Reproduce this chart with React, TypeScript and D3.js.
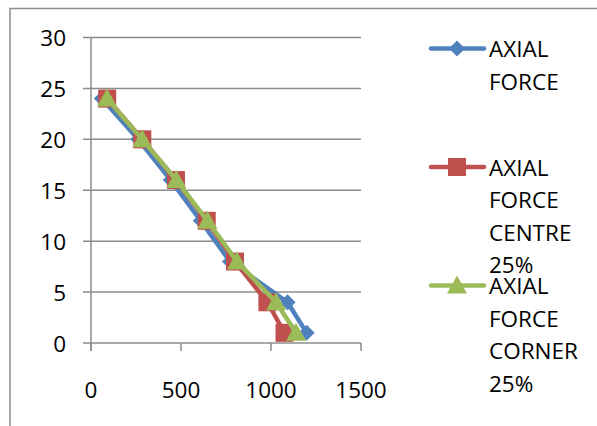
import React from "react";
import * as d3 from "d3";

const depths = [24, 20, 16, 12, 8, 4, 1];
const axialForce = [60, 262, 443, 610, 772, 1092, 1198];
const axialCentre = [90, 285, 472, 643, 800, 980, 1075];
const axialCorner = [89, 284, 474, 647, 811, 1028, 1139];
const yTicks = [0, 5, 10, 15, 20, 25, 30];
const xTicks = [0, 500, 1000, 1500];
const legendLabels = [
  ["AXIAL", "FORCE"],
  ["AXIAL", "FORCE", "CENTRE", "25%"],
  ["AXIAL", "FORCE", "CORNER", "25%"],
];

const colors = ["#4F81BD", "#C0504D", "#9BBB59"];
const shapes = ["diamond", "square", "triangle"];
const FONT = "'Open Sans', sans-serif";

function Marker({ shape, x, y, color }: { shape: string; x: number; y: number; color: string }) {
  if (shape === "diamond") {
    const r = 8;
    return <path d={`M${x},${y - r}L${x + r},${y}L${x},${y + r}L${x - r},${y}Z`} fill={color} />;
  }
  if (shape === "square") {
    return <rect x={x - 9} y={y - 9} width={18} height={18} fill={color} />;
  }
  return <path d={`M${x},${y - 10}L${x + 10},${y + 8}L${x - 10},${y + 8}Z`} fill={color} />;
}

export default function App() {
  const x = d3.scaleLinear().domain([0, 1500]).range([91, 361]);
  const y = d3.scaleLinear().domain([0, 30]).range([343, 37.5]);
  const series = [axialForce, axialCentre, axialCorner];
  const line = d3
    .line<[number, number]>()
    .x((d) => x(d[0]))
    .y((d) => y(d[1]));
  const grid = "#8c8c8c";

  return (
    <svg
      width={597}
      height={426}
      style={{ position: "absolute", left: 0, top: 0, background: "#fff" }}
      fontFamily={FONT}
    >
      <rect x={10} y={8.5} width={700} height={600} fill="#fff" stroke={grid} strokeWidth={1.5} />
      {yTicks.map((t) => (
        <g key={t}>
          <line x1={83} x2={361} y1={y(t)} y2={y(t)} stroke={grid} strokeWidth={1.5} />
          <text x={66} y={y(t)} textAnchor="end" dominantBaseline="central" fontSize={22.5} fill="#000">
            {t}
          </text>
        </g>
      ))}
      <line x1={91} x2={91} y1={y(30)} y2={351} stroke={grid} strokeWidth={1.5} />
      {xTicks.map((t) => (
        <g key={t}>
          <line x1={x(t)} x2={x(t)} y1={343} y2={351} stroke={grid} strokeWidth={1.5} />
          <text x={x(t)} y={389} textAnchor="middle" dominantBaseline="central" fontSize={22.5} fill="#000">
            {t}
          </text>
        </g>
      ))}
      {series.map((s, i) => {
        const pts: [number, number][] = s.map((v, j) => [v, depths[j]]);
        return (
          <g key={i}>
            <path d={line(pts) || ""} fill="none" stroke={colors[i]} strokeWidth={4.5} strokeLinejoin="round" />
            {pts.map((p, j) => (
              <Marker key={j} shape={shapes[i]} x={x(p[0])} y={y(p[1])} color={colors[i]} />
            ))}
          </g>
        );
      })}
      {legendLabels.map((lines, i) => {
        const y0 = 48.5 + i * 118.5;
        return (
          <g key={i}>
            <line x1={431} x2={484} y1={y0} y2={y0} stroke={colors[i]} strokeWidth={4.5} strokeLinecap="round" />
            <Marker shape={shapes[i]} x={457} y={y0} color={colors[i]} />
            {lines.map((l, k) => (
              <text key={k} x={489} y={y0 + k * 32.6} dominantBaseline="central" fontSize={22.5} fill="#000">
                {l}
              </text>
            ))}
          </g>
        );
      })}
    </svg>
  );
}
